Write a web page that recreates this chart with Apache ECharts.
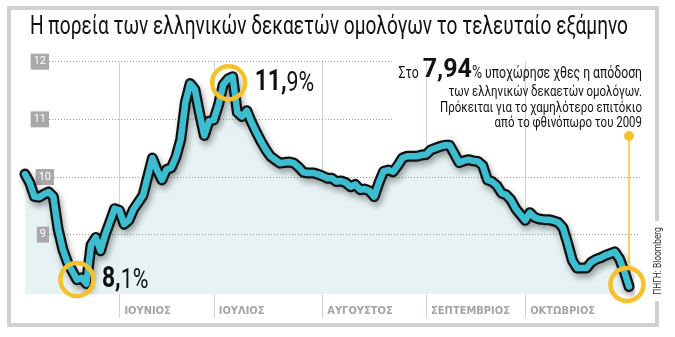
<!DOCTYPE html>
<html><head><meta charset="utf-8">
<script src="https://cdn.jsdelivr.net/npm/echarts@6/dist/echarts.min.js"></script>
<style>html,body{margin:0;padding:0;background:#fff}#c{width:675px;height:337px}</style>
</head><body><div id="c"></div>
<script>
// ---- data ----
const startDate = '2013-05-06';
const endDate = '2013-10-31';
const yields = [
 10.05, 9.9, 9.66, 9.65, 9.70, 9.74, 9.66, 9.1, 8.75, 8.52,
 8.37, 8.22, 8.25, 8.15, 8.82, 8.95, 8.72, 9.0, 9.22, 9.45,
 9.42, 9.18, 9.25, 9.44, 9.56, 9.68, 10.0, 10.33, 10.12, 9.95,
 10.13, 10.16, 10.35, 10.65, 11.3, 11.62, 11.52, 11.1, 10.72, 10.97,
 10.99, 11.25, 11.6, 11.7, 11.74, 11.12, 11.05, 11.15, 10.95, 10.78,
 10.62, 10.48, 10.36, 10.3, 10.24, 10.25, 10.26, 10.24, 10.17, 10.08,
 10.07, 10.07, 10.05, 10.02, 9.98, 9.98, 9.92, 9.93, 9.9, 9.83,
 9.87, 9.78, 9.79, 9.76, 9.66, 9.9, 10.1, 10.12, 10.09, 10.2,
 10.33, 10.36, 10.36, 10.36, 10.38, 10.39, 10.47, 10.5, 10.53, 10.55,
 10.55, 10.4, 10.25, 10.28, 10.3, 10.28, 10.27, 10.2, 9.95, 9.92,
 9.85, 9.72, 9.69, 9.6, 9.45, 9.35, 9.25, 9.38, 9.3, 9.27,
 9.26, 9.26, 9.24, 9.21, 9.12, 8.85, 8.55, 8.42, 8.42, 8.42,
 8.52, 8.57, 8.6, 8.64, 8.67, 8.70, 8.58, 8.36, 8.1
];
const monthNames = {6:'ΙΟΥΝΙΟΣ', 7:'ΙΟΥΛΙΟΣ', 8:'ΑΥΓΟΥΣΤΟΣ', 9:'ΣΕΠΤΕΜΒΡΙΟΣ', 10:'ΟΚΤΩΒΡΙΟΣ'};
const gridValues = [12, 11, 10, 9];
const yMin = 7.97, yMax = 12;
const lowIndex = 11, lowLabel = ['8,', '1%'];
const highIndex = 44, highLabel = ['11,', '9%'];
const lastLabel = ['7,94', '%'];
const pointerTop = 10.71, pointerBottom = 8.47;
const titleText = 'Η πορεία των ελληνικών δεκαετών ομολόγων το τελευταίο εξάμηνο';
const noteFirst = ['Στο ', ' υποχώρησε χθες η απόδοση'];
const noteLines = ['των ελληνικών δεκαετών ομολόγων.', 'Πρόκειται για το χαμηλότερο επιτόκιο', 'από το φθινόπωρο του 2009'];
const sourceText = 'ΠΗΓΗ: Bloomberg';

// trading-day categories
const categories = [];
for (let d = new Date(startDate + 'T00:00:00Z'); d <= new Date(endDate + 'T00:00:00Z'); d.setUTCDate(d.getUTCDate() + 1)) {
  const wd = d.getUTCDay();
  if (wd === 0 || wd === 6) continue;
  categories.push(d.toISOString().slice(0, 10));
}
const lastIdx = categories.length - 1;
const isMonthStart = (i) => i > 0 && categories[i].slice(5, 7) !== categories[i - 1].slice(5, 7);

const FONT = 'Roboto';
const CONDENSED = "'DejaVu Sans Condensed',sans-serif";
const YELLOW = '#f6c22c';
const VLINE = '#c8d6d9';

// horizontal squeeze factor so the regular font imitates the condensed original
const mctx = document.createElement('canvas').getContext('2d');
function textW(t, font) { mctx.font = font; return mctx.measureText(t).width; }
const SQ = 598 / textW(titleText, '25px ' + FONT);

const chart = echarts.init(document.getElementById('c'), null, {renderer: 'canvas'});

const gridLineStart = {12: 49, 11: 49, 10: 54, 9: 49};
const gridLineEnd = {12: 393, 11: 393, 10: 640, 9: 640};

chart.setOption({
  animation: false,
  grid: {left: 25, right: 46, top: 61.7, bottom: 43},
  xAxis: {
    type: 'category', data: categories, boundaryGap: false,
    axisLine: {show: false},
    axisTick: {show: true, interval: (i) => isMonthStart(i), length: 24, lineStyle: {color: VLINE, width: 1}},
    splitLine: {show: true, interval: (i) => isMonthStart(i), lineStyle: {color: VLINE, width: 1}},
    axisLabel: {
      interval: (i) => isMonthStart(i),
      formatter: (v) => monthNames[+v.slice(5, 7)] || '',
      align: 'left', padding: [0, 0, 0, 5], margin: 12,
      color: '#a4a4a4', fontWeight: 'bold', fontSize: 11, fontFamily: CONDENSED
    }
  },
  yAxis: {type: 'value', min: yMin, max: yMax, show: false, splitLine: {show: false}},
  series: [
    {
      type: 'line', data: yields, z: 1, symbol: 'none', silent: true,
      lineStyle: {width: 0, opacity: 0},
      areaStyle: {color: '#e6f2f3', opacity: 1},
      markLine: {
        z: 2, silent: true, symbol: ['none', 'none'],
        lineStyle: {color: '#9a9a9a', width: 1, type: [1, 2]},
        data: gridValues.map(v => [
          {x: gridLineStart[v], yAxis: v,
           label: {show: true, position: 'start', distance: 0, formatter: String(v),
                   backgroundColor: '#a9a9a9', color: '#fff', padding: [3, 3, 2, 3],
                   fontSize: 11, fontFamily: FONT}},
          {x: gridLineEnd[v], yAxis: v}
        ])
      }
    },
    {
      type: 'line', data: yields, z: 3, symbol: 'none', clip: false, silent: true,
      lineStyle: {color: '#111', width: 11, cap: 'round', join: 'round',
                  shadowColor: 'rgba(0,0,0,0.35)', shadowBlur: 6, shadowOffsetX: 2, shadowOffsetY: 4}
    },
    {
      type: 'line', data: yields, z: 4, symbol: 'none', clip: false, silent: true,
      lineStyle: {color: '#3cbdd0', width: 6.5, cap: 'round', join: 'round'},
      markLine: {
        z: 5, silent: true,
        lineStyle: {color: YELLOW, width: 1.5, type: 'solid'},
        label: {show: false},
        data: [[
          {xAxis: categories[lastIdx], yAxis: pointerTop, symbol: 'circle', symbolSize: 10},
          {xAxis: categories[lastIdx], yAxis: pointerBottom, symbol: 'none'}
        ]]
      },
      markPoint: {
        z: 6, silent: true, symbol: 'circle', symbolSize: 33,
        itemStyle: {color: 'rgba(0,0,0,0)', borderColor: YELLOW, borderWidth: 4.5},
        label: {show: false},
        data: [
          {coord: [categories[lowIndex], yields[lowIndex]], symbolOffset: [0, 0]},
          {coord: [categories[highIndex], yields[highIndex]], symbolOffset: [-4, 6]},
          {coord: [categories[lastIdx], yields[lastIdx]], symbolOffset: [-2, -2]}
        ]
      }
    }
  ]
});

// positions of the circled points, through the chart's own scales
const lowPt = chart.convertToPixel({seriesIndex: 2}, [lowIndex, yields[lowIndex]]);
const highPt = chart.convertToPixel({seriesIndex: 2}, [highIndex, yields[highIndex]]);

const bigRich = {
  a: {fontSize: 30, fontWeight: 'bold', fontFamily: FONT, fill: '#111', verticalAlign: 'bottom'},
  b: {fontSize: 28, fontFamily: FONT, fill: '#111', verticalAlign: 'bottom'}
};

// first note line: pieces laid out right-to-left
const noteRight = 642, noteBase = 79.5, noteSmall = 16;
const rightW = textW(noteFirst[1], noteSmall + 'px ' + FONT) * SQ;
const pctW = textW(lastLabel[1], '18px ' + FONT) * SQ;
const bigScale = 1.0;
const bigW = textW(lastLabel[0], 'bold 25px ' + FONT) * bigScale;

chart.setOption({
  graphic: [
    {type: 'rect', silent: true, z: 0, shape: {x: 9, y: 8, width: 648, height: 317},
     style: {fill: null, stroke: '#d0d0d0', lineWidth: 4}},
    {type: 'rect', silent: true, z: 1, shape: {x: 652, y: 221, width: 12, height: 80},
     style: {fill: '#fff'}},
    {type: 'text', silent: true, z: 2, x: 658, y: 261, rotation: Math.PI / 2, scaleX: SQ,
     style: {text: sourceText, font: '11px ' + FONT, fill: '#333', align: 'center', verticalAlign: 'middle'}},
    {type: 'text', silent: true, z: 10, x: 30, y: 28, scaleX: SQ,
     style: {text: titleText, font: '25px ' + FONT, fill: '#111', align: 'left', verticalAlign: 'middle'}},
    {type: 'text', silent: true, z: 10, x: lowPt[0] + 25, y: lowPt[1], scaleX: SQ,
     style: {text: '{a|' + lowLabel[0] + '}{b|' + lowLabel[1] + '}', align: 'left', verticalAlign: 'middle', rich: bigRich}},
    {type: 'text', silent: true, z: 10, x: highPt[0] + 22, y: highPt[1] + 6, scaleX: SQ,
     style: {text: '{a|' + highLabel[0] + '}{b|' + highLabel[1] + '}', align: 'left', verticalAlign: 'middle', rich: bigRich}},
    {type: 'text', silent: true, z: 10, x: noteRight, y: noteBase - 0.35 * noteSmall, scaleX: SQ,
     style: {text: noteFirst[1], font: noteSmall + 'px ' + FONT, fill: '#111', align: 'right', verticalAlign: 'middle'}},
    {type: 'text', silent: true, z: 10, x: noteRight - rightW, y: noteBase - 0.35 * 18, scaleX: SQ,
     style: {text: lastLabel[1], font: '18px ' + FONT, fill: '#111', align: 'right', verticalAlign: 'middle'}},
    {type: 'text', silent: true, z: 10, x: noteRight - rightW - pctW, y: noteBase - 0.35 * 25, scaleX: bigScale,
     style: {text: lastLabel[0], font: 'bold 25px ' + FONT, fill: '#111', align: 'right', verticalAlign: 'middle'}},
    {type: 'text', silent: true, z: 10, x: noteRight - rightW - pctW - bigW - 1, y: noteBase - 0.35 * noteSmall, scaleX: SQ,
     style: {text: noteFirst[0], font: noteSmall + 'px ' + FONT, fill: '#111', align: 'right', verticalAlign: 'middle'}},
    ...noteLines.map((t, i) => ({type: 'text', silent: true, z: 10, x: noteRight, y: [92.2, 108, 123][i], scaleX: SQ,
      style: {text: t, font: '15px ' + FONT, fill: '#111', align: 'right', verticalAlign: 'middle'}}))
  ]
});
</script></body></html>
